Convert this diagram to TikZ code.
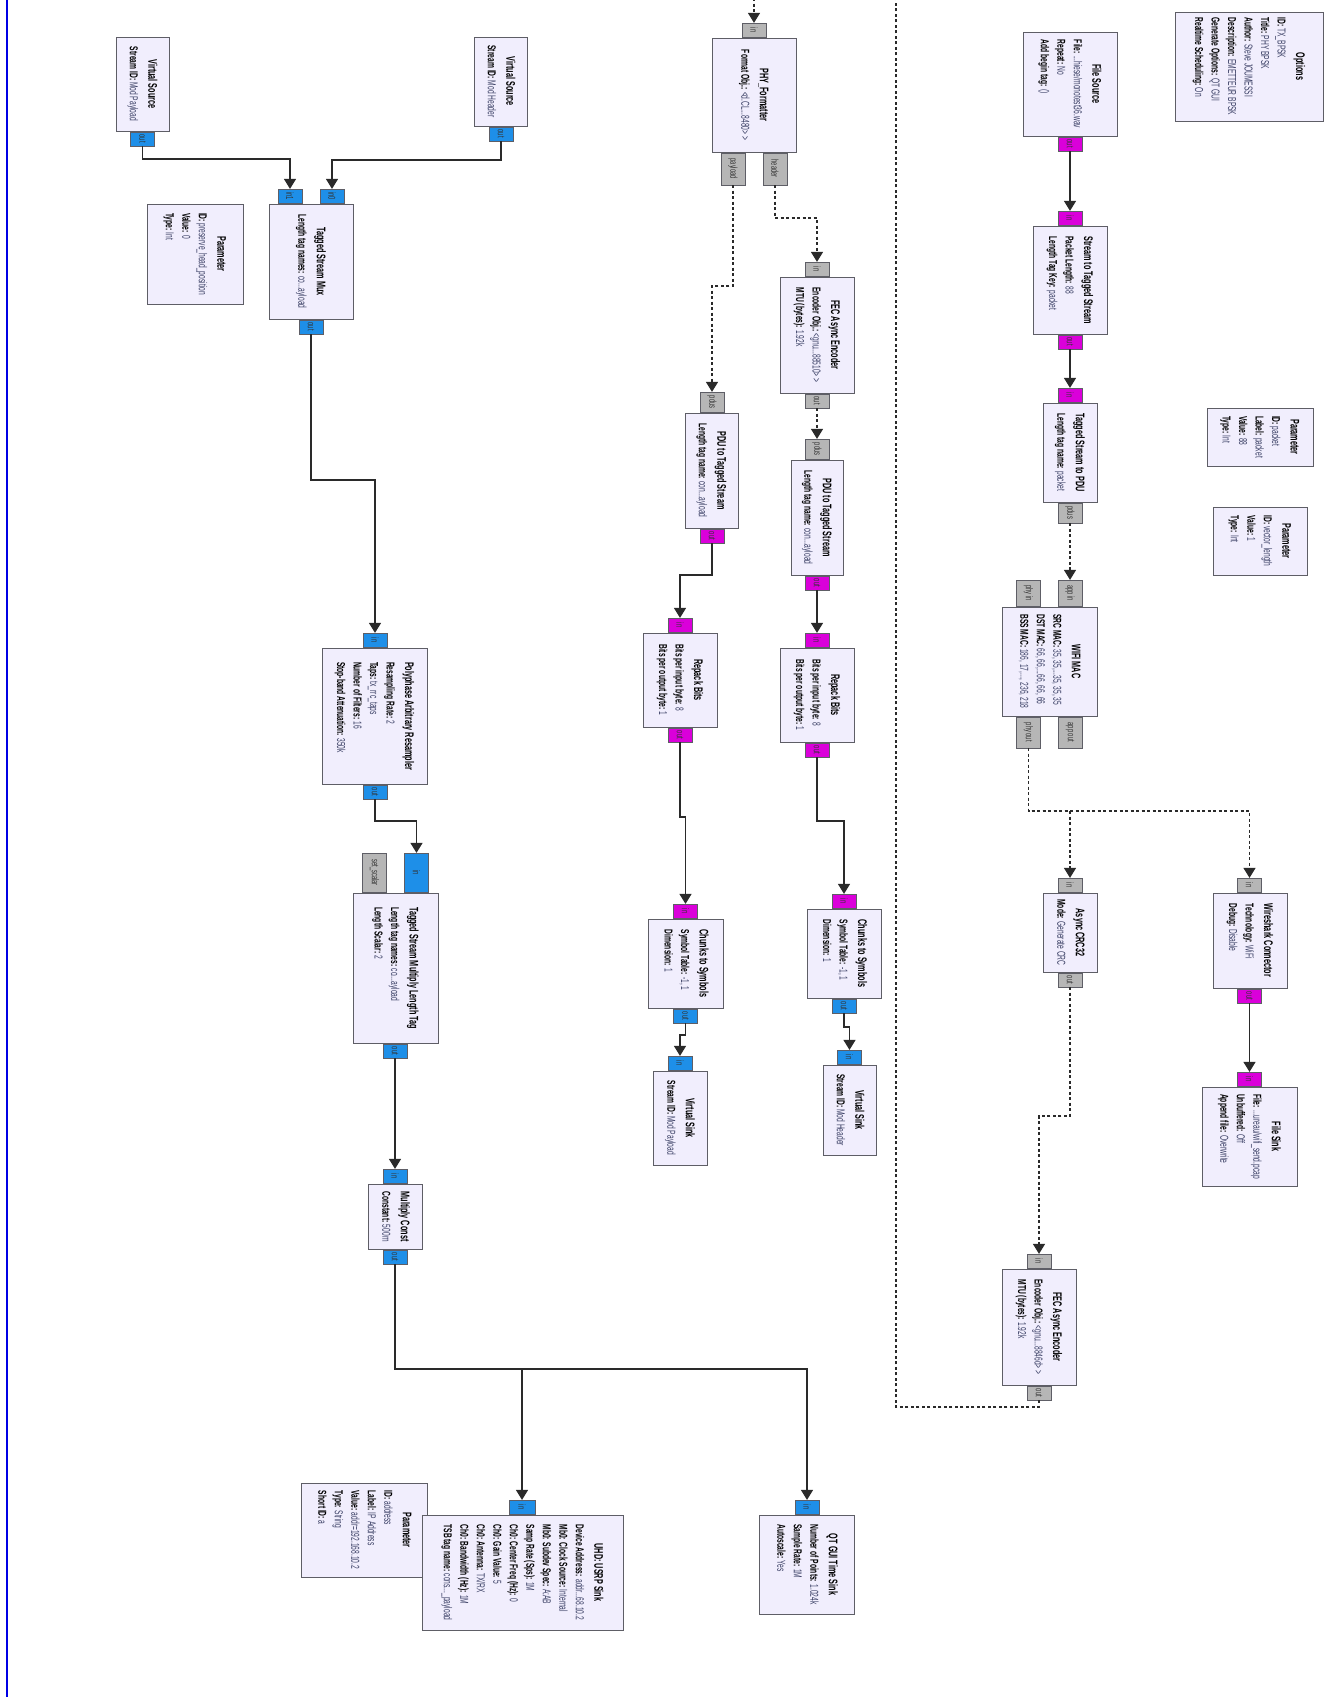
\documentclass[tikz,border=0pt]{standalone}
\usepackage{fontspec}
\setmainfont{Liberation Sans}[FakeStretch=0.58]
\usepackage{graphicx}
\usepackage{xcolor}
\definecolor{grcFill}{HTML}{F1EEFD}
\definecolor{grcEdge}{HTML}{5E5E66}
\definecolor{grcBlue}{HTML}{1E8FE8}
\definecolor{grcMagenta}{HTML}{DA00DA}
\definecolor{grcGrey}{HTML}{B6B6B6}
\definecolor{grcValue}{HTML}{3C4166}
\definecolor{grcLine}{HTML}{2A2A2A}
\usepackage{tikz}
\usetikzlibrary{arrows.meta}

\newcommand{\blktxt}[2]{\rotatebox{-90}{\begin{tabular}{@{}l@{}}\multicolumn{1}{@{}c@{}}{\fontsize{12.5}{17}\selectfont\bfseries #1}\\[2pt]#2\end{tabular}}}
\newcommand{\kv}[2]{\textbf{#1:} \textcolor{grcValue}{#2}}
\newcommand{\plbl}[1]{\rotatebox{-90}{#1}}

\begin{document}
\begin{tikzpicture}[
    x=1pt, y=-1pt,
    blkbox/.style={draw=grcEdge, fill=grcFill, rectangle, line width=1pt, inner sep=0pt, font=\fontsize{11.5}{16.5}\selectfont},
    cplxport/.style={draw=grcEdge, fill=grcBlue, rectangle, line width=0.6pt, inner sep=0pt, minimum width=24pt, minimum height=14pt, font=\fontsize{10}{11}\selectfont, text=black!80},
    byteport/.style={cplxport, fill=grcMagenta},
    msgport/.style={cplxport, fill=grcGrey},
    arrow/.style={-{Triangle[length=10pt,width=12pt]}, line width=1.2pt, draw=grcLine},
    msgarrow/.style={arrow, dash pattern=on 3pt off 2.5pt}
]
\useasboundingbox (0,0) rectangle (1336,1697);
\clip (0,0) rectangle (1336,1697);

% window edge
\draw [blue!90!black, line width=1.5pt] (7,0) -- (7,1697);

% left column: header/payload mux and TX chain
\node (vsrcPay) [blkbox, minimum width=53pt, minimum height=94pt] at (142.5,84) {\blktxt{Virtual Source}{\kv{Stream ID}{Mod Payload}}};
\node (vsrcHdr) [blkbox, minimum width=53pt, minimum height=89pt] at (500.5,81.5) {\blktxt{Virtual Source}{\kv{Stream ID}{Mod Header}}};
\node (parHead) [blkbox, minimum width=96pt, minimum height=100pt] at (195,254) {\blktxt{Parameter}{\kv{ID}{preserve\_head\_position}\\\kv{Value}{0}\\\kv{Type}{Int}}};
\node (mux) [blkbox, minimum width=84pt, minimum height=115pt] at (311,261.5) {\blktxt{Tagged Stream Mux}{\kv{Length tag names}{co...ayload}}};
\node (resamp) [blkbox, minimum width=105pt, minimum height=136pt] at (374.5,716) {\blktxt{Polyphase Arbitrary Resampler}{\kv{Resampling Rate}{2}\\\kv{Taps}{tx\_rrc\_taps}\\\kv{Number of Filters}{16}\\\kv{Stop-band Attenuation}{350k}}};
\node (mult) [blkbox, minimum width=85pt, minimum height=150pt] at (395.5,968) {\blktxt{Tagged Stream Multiply Length Tag}{\kv{Length tag names}{co...ayload}\\\kv{Length Scalar}{2}}};
\node (mulConst) [blkbox, minimum width=54pt, minimum height=65pt] at (395,1216.5) {\blktxt{Multiply Const}{\kv{Constant}{500m}}};
\node (parAddr) [blkbox, minimum width=126pt, minimum height=94pt] at (364,1530) {\blktxt{Parameter}{\kv{ID}{address}\\\kv{Label}{IP Address}\\\kv{Value}{addr=192.168.10.2}\\\kv{Type}{String}\\\kv{Short ID}{a}}};
\node (uhd) [blkbox, minimum width=201pt, minimum height=115pt] at (522.5,1572.5) {\blktxt{UHD: USRP Sink}{\kv{Device Address}{addr...68.10.2}\\\kv{Mb0: Clock Source}{Internal}\\\kv{Mb0: Subdev Spec}{A:AB}\\\kv{Samp Rate (Sps)}{1M}\\\kv{Ch0: Center Freq (Hz)}{0}\\\kv{Ch0: Gain Value}{5}\\\kv{Ch0: Antenna}{TX/RX}\\\kv{Ch0: Bandwidth (Hz)}{1M}\\\kv{TSB tag name}{cons...\_payload}}};
\node (qtTime) [blkbox, minimum width=95pt, minimum height=99pt] at (806.5,1564.5) {\blktxt{QT GUI Time Sink}{\kv{Number of Points}{1.024k}\\\kv{Sample Rate}{1M}\\\kv{Autoscale}{Yes}}};

% middle column: formatter, encoders, modulation
\node (phyFmt) [blkbox, minimum width=84pt, minimum height=114pt] at (754,95) {\blktxt{PHY\_Formatter}{\kv{Format Obj.}{<d.CL...8480> >}}};
\node (fecHdr) [blkbox, minimum width=74pt, minimum height=116pt] at (817,335) {\blktxt{FEC Async Encoder}{\kv{Encoder Obj.}{<gnu...88510> >}\\\kv{MTU (bytes)}{1.92k}}};
\node (p2tsPay) [blkbox, minimum width=53pt, minimum height=115pt] at (711.5,470.5) {\blktxt{PDU to Tagged Stream}{\kv{Length tag name}{con...ayload}}};
\node (p2tsHdr) [blkbox, minimum width=52pt, minimum height=115pt] at (817,517.5) {\blktxt{PDU to Tagged Stream}{\kv{Length tag name}{con...ayload}}};
\node (repPay) [blkbox, minimum width=74pt, minimum height=94pt] at (680,680) {\blktxt{Repack Bits}{\kv{Bits per input byte}{8}\\\kv{Bits per output byte}{1}}};
\node (repHdr) [blkbox, minimum width=74pt, minimum height=94pt] at (817,695) {\blktxt{Repack Bits}{\kv{Bits per input byte}{8}\\\kv{Bits per output byte}{1}}};
\node (c2sPay) [blkbox, minimum width=75pt, minimum height=89pt] at (685.5,963.5) {\blktxt{Chunks to Symbols}{\kv{Symbol Table}{-1, 1}\\\kv{Dimension}{1}}};
\node (c2sHdr) [blkbox, minimum width=74pt, minimum height=89pt] at (844,953.5) {\blktxt{Chunks to Symbols}{\kv{Symbol Table}{-1, 1}\\\kv{Dimension}{1}}};
\node (vsnkPay) [blkbox, minimum width=54pt, minimum height=94pt] at (680,1118) {\blktxt{Virtual Sink}{\kv{Stream ID}{Mod Payload}}};
\node (vsnkHdr) [blkbox, minimum width=53pt, minimum height=90pt] at (849.5,1110) {\blktxt{Virtual Sink}{\kv{Stream ID}{Mod Header}}};

% right column: file input, MAC, wireshark
\node (options) [blkbox, minimum width=148pt, minimum height=109pt] at (1249,66.5) {\blktxt{Options}{\kv{ID}{TX\_BPSK}\\\kv{Title}{PHY BPSK}\\\kv{Author}{Steve JOUMESSI}\\\kv{Description}{EMETTEUR BPSK}\\\kv{Generate Options}{QT GUI}\\\kv{Realtime Scheduling}{On}}};
\node (fileSrc) [blkbox, minimum width=94pt, minimum height=104pt] at (1070,84) {\blktxt{File Source}{\kv{File}{...hiese/monotest36.wav}\\\kv{Repeat}{No}\\\kv{Add begin tag}{()}}};
\node (s2ts) [blkbox, minimum width=74pt, minimum height=108pt] at (1070,280) {\blktxt{Stream to Tagged Stream}{\kv{Packet Length}{88}\\\kv{Length Tag Key}{packet}}};
\node (ts2pdu) [blkbox, minimum width=54pt, minimum height=99pt] at (1070,452.5) {\blktxt{Tagged Stream to PDU}{\kv{Length tag name}{packet}}};
\node (parPacket) [blkbox, minimum width=106pt, minimum height=58pt] at (1260,437) {\blktxt{Parameter}{\kv{ID}{packet}\\\kv{Label}{packet}\\\kv{Value}{88}\\\kv{Type}{Int}}};
\node (parVec) [blkbox, minimum width=94pt, minimum height=68pt] at (1260,541) {\blktxt{Parameter}{\kv{ID}{vector\_length}\\\kv{Value}{1}\\\kv{Type}{Int}}};
\node (wifiMac) [blkbox, minimum width=95pt, minimum height=109pt] at (1049.5,661.5) {\blktxt{WIFI MAC}{\kv{SRC MAC}{35, 35,...35, 35, 35}\\\kv{DST MAC}{66, 66,...66, 66, 66}\\\kv{BSS MAC}{186, 17,..., 236, 218}}};
\node (crc) [blkbox, minimum width=54pt, minimum height=79pt] at (1070,932.5) {\blktxt{Async CRC32}{\kv{Mode}{Generate CRC}}};
\node (wshark) [blkbox, minimum width=74pt, minimum height=95pt] at (1250,940.5) {\blktxt{Wireshark Connector}{\kv{Technology}{WiFi}\\\kv{Debug}{Disable}}};
\node (fileSnk) [blkbox, minimum width=95pt, minimum height=99pt] at (1249.5,1136.5) {\blktxt{File Sink}{\kv{File}{...ureau/wifi\_send.pcap}\\\kv{Unbuffered}{Off}\\\kv{Append file}{Overwrite}}};
\node (fecPay) [blkbox, minimum width=74pt, minimum height=116pt] at (1039,1327) {\blktxt{FEC Async Encoder}{\kv{Encoder Obj.}{<gnu...8846d> >}\\\kv{MTU (bytes)}{1.92k}}};

% ports
\node (vsrcPay_out) [cplxport, anchor=north] at (142.5,0 |- vsrcPay.south) {\plbl{out}};
\node (vsrcHdr_out) [cplxport, anchor=north] at (501,0 |- vsrcHdr.south) {\plbl{out}};
\node (mux_in1) [cplxport, anchor=south] at (290,0 |- mux.north) {\plbl{in1}};
\node (mux_in0) [cplxport, anchor=south] at (332,0 |- mux.north) {\plbl{in0}};
\node (mux_out) [cplxport, anchor=north] at (311,0 |- mux.south) {\plbl{out}};
\node (resamp_in) [cplxport, anchor=south] at (375,0 |- resamp.north) {\plbl{in}};
\node (resamp_out) [cplxport, anchor=north] at (375,0 |- resamp.south) {\plbl{out}};
\node (mult_set) [msgport, minimum height=39pt, anchor=south] at (374.5,0 |- mult.north) {\plbl{set\_scalar}};
\node (mult_in) [cplxport, minimum height=39pt, anchor=south] at (416.5,0 |- mult.north) {\plbl{in}};
\node (mult_out) [cplxport, anchor=north] at (395,0 |- mult.south) {\plbl{out}};
\node (mulConst_in) [cplxport, anchor=south] at (395,0 |- mulConst.north) {\plbl{in}};
\node (mulConst_out) [cplxport, anchor=north] at (395,0 |- mulConst.south) {\plbl{out}};
\node (uhd_in) [cplxport, minimum width=26pt, anchor=south] at (522,0 |- uhd.north) {\plbl{in}};
\node (qtTime_in) [cplxport, anchor=south] at (807,0 |- qtTime.north) {\plbl{in}};

\node (phyFmt_in) [msgport, anchor=south] at (754,0 |- phyFmt.north) {\plbl{in}};
\node (phyFmt_payload) [msgport, minimum height=32pt, anchor=north] at (733,0 |- phyFmt.south) {\plbl{payload}};
\node (phyFmt_header) [msgport, minimum height=32pt, anchor=north] at (775,0 |- phyFmt.south) {\plbl{header}};
\node (fecHdr_in) [msgport, anchor=south] at (817,0 |- fecHdr.north) {\plbl{in}};
\node (fecHdr_out) [msgport, anchor=north] at (817,0 |- fecHdr.south) {\plbl{out}};
\node (p2tsPay_pdus) [msgport, minimum height=20pt, anchor=south] at (712,0 |- p2tsPay.north) {\plbl{pdus}};
\node (p2tsPay_out) [byteport, anchor=north] at (712,0 |- p2tsPay.south) {\plbl{out}};
\node (p2tsHdr_pdus) [msgport, minimum height=20pt, anchor=south] at (817,0 |- p2tsHdr.north) {\plbl{pdus}};
\node (p2tsHdr_out) [byteport, anchor=north] at (817,0 |- p2tsHdr.south) {\plbl{out}};
\node (repPay_in) [byteport, anchor=south] at (680,0 |- repPay.north) {\plbl{in}};
\node (repPay_out) [byteport, anchor=north] at (680,0 |- repPay.south) {\plbl{out}};
\node (repHdr_in) [byteport, anchor=south] at (817,0 |- repHdr.north) {\plbl{in}};
\node (repHdr_out) [byteport, anchor=north] at (817,0 |- repHdr.south) {\plbl{out}};
\node (c2sPay_in) [byteport, anchor=south] at (685.5,0 |- c2sPay.north) {\plbl{in}};
\node (c2sPay_out) [cplxport, anchor=north] at (685.5,0 |- c2sPay.south) {\plbl{out}};
\node (c2sHdr_in) [byteport, anchor=south] at (844,0 |- c2sHdr.north) {\plbl{in}};
\node (c2sHdr_out) [cplxport, anchor=north] at (844,0 |- c2sHdr.south) {\plbl{out}};
\node (vsnkPay_in) [cplxport, anchor=south] at (680,0 |- vsnkPay.north) {\plbl{in}};
\node (vsnkHdr_in) [cplxport, anchor=south] at (849.5,0 |- vsnkHdr.north) {\plbl{in}};

\node (fileSrc_out) [byteport, anchor=north] at (1070,0 |- fileSrc.south) {\plbl{out}};
\node (s2ts_in) [byteport, anchor=south] at (1070,0 |- s2ts.north) {\plbl{in}};
\node (s2ts_out) [byteport, anchor=north] at (1070,0 |- s2ts.south) {\plbl{out}};
\node (ts2pdu_in) [byteport, anchor=south] at (1070,0 |- ts2pdu.north) {\plbl{in}};
\node (ts2pdu_pdus) [msgport, minimum height=20pt, anchor=north] at (1070,0 |- ts2pdu.south) {\plbl{pdus}};
\node (wifiMac_appin) [msgport, minimum height=26pt, anchor=south] at (1070,0 |- wifiMac.north) {\plbl{app in}};
\node (wifiMac_phyin) [msgport, minimum height=26pt, anchor=south] at (1028.5,0 |- wifiMac.north) {\plbl{phy in}};
\node (wifiMac_appout) [msgport, minimum height=31pt, anchor=north] at (1070,0 |- wifiMac.south) {\plbl{app out}};
\node (wifiMac_phyout) [msgport, minimum height=31pt, anchor=north] at (1028.5,0 |- wifiMac.south) {\plbl{phy out}};
\node (crc_in) [msgport, anchor=south] at (1070,0 |- crc.north) {\plbl{in}};
\node (crc_out) [msgport, anchor=north] at (1070,0 |- crc.south) {\plbl{out}};
\node (wshark_in) [msgport, anchor=south] at (1249.5,0 |- wshark.north) {\plbl{in}};
\node (wshark_out) [byteport, anchor=north] at (1249.5,0 |- wshark.south) {\plbl{out}};
\node (fileSnk_in) [byteport, anchor=south] at (1249.5,0 |- fileSnk.north) {\plbl{in}};
\node (fecPay_in) [msgport, anchor=south] at (1039,0 |- fecPay.north) {\plbl{in}};
\node (fecPay_out) [msgport, anchor=north] at (1039,0 |- fecPay.south) {\plbl{out}};

% stream connections
\draw [arrow] (vsrcPay_out.south) -- (vsrcPay_out.south |- 0,159) -| (mux_in1.north);
\draw [arrow] (vsrcHdr_out.south) -- (vsrcHdr_out.south |- 0,160) -| (mux_in0.north);
\draw [arrow] (mux_out.south) -- (mux_out.south |- 0,480) -| (resamp_in.north);
\draw [arrow] (resamp_out.south) -- (resamp_out.south |- 0,821) -| (mult_in.north);
\draw [arrow] (mult_out.south) -- (mulConst_in.north);
\draw [arrow] (mulConst_out.south) -- (mulConst_out.south |- 0,1369) -| (uhd_in.north);
\draw [arrow] (mulConst_out.south) -- (mulConst_out.south |- 0,1369) -| (qtTime_in.north);
\draw [arrow] (p2tsPay_out.south) -- (p2tsPay_out.south |- 0,575) -| (repPay_in.north);
\draw [arrow] (p2tsHdr_out.south) -- (repHdr_in.north);
\draw [arrow] (repPay_out.south) -- (repPay_out.south |- 0,817) -| (c2sPay_in.north);
\draw [arrow] (repHdr_out.south) -- (repHdr_out.south |- 0,821) -| (c2sHdr_in.north);
\draw [arrow] (c2sPay_out.south) -- (c2sPay_out.south |- 0,1035) -| (vsnkPay_in.north);
\draw [arrow] (c2sHdr_out.south) -- (c2sHdr_out.south |- 0,1027) -| (vsnkHdr_in.north);
\draw [arrow] (fileSrc_out.south) -- (s2ts_in.north);
\draw [arrow] (s2ts_out.south) -- (ts2pdu_in.north);
\draw [arrow] (wshark_out.south) -- (fileSnk_in.north);

% message connections
\draw [msgarrow] (phyFmt_payload.south) -- (phyFmt_payload.south |- 0,286) -| (p2tsPay_pdus.north);
\draw [msgarrow] (phyFmt_header.south) -- (phyFmt_header.south |- 0,218) -| (fecHdr_in.north);
\draw [msgarrow] (fecHdr_out.south) -- (p2tsHdr_pdus.north);
\draw [msgarrow] (ts2pdu_pdus.south) -- (wifiMac_appin.north);
\draw [msgarrow] (wifiMac_phyout.south) -- (wifiMac_phyout.south |- 0,811) -| (crc_in.north);
\draw [msgarrow] (wifiMac_phyout.south) -- (wifiMac_phyout.south |- 0,811) -| (wshark_in.north);
\draw [msgarrow] (crc_out.south) -- (crc_out.south |- 0,1116) -| (fecPay_in.north);
\coordinate (loopBot) at (896,1407);
\coordinate (loopTop) at (896,-15);
\draw [msgarrow] (fecPay_out.south) |- (loopBot) -- (loopTop) -| (phyFmt_in.north);

\end{tikzpicture}
\end{document}
